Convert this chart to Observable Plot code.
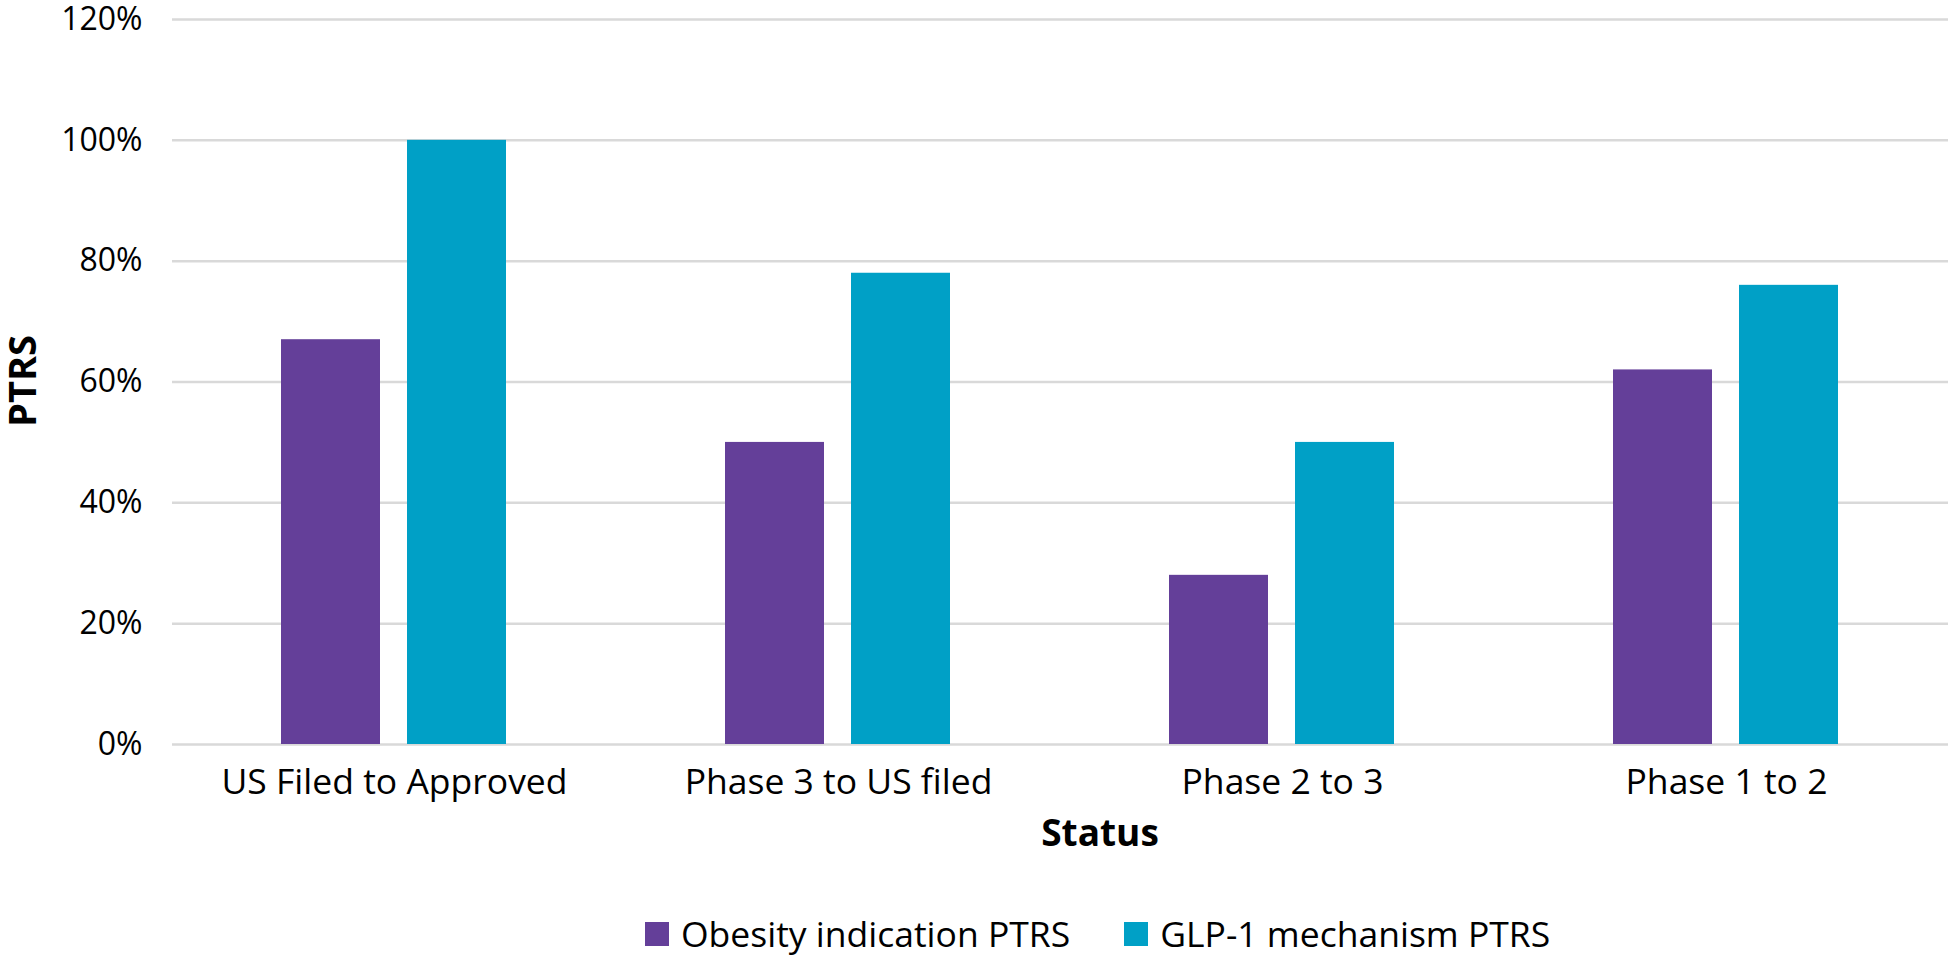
<!DOCTYPE html>
<html>
<head>
<meta charset="utf-8">
<script src="https://cdn.jsdelivr.net/npm/d3@7"></script>
<script src="https://cdn.jsdelivr.net/npm/@observablehq/plot@0.6"></script>
<style>
  body { margin: 0; background: #fff; font-family: "Open Sans", Lato, sans-serif; color: #000; }
  #wrap { position: relative; width: 1949px; height: 957px; overflow: hidden; }
  #chart { position: absolute; left: 0; top: 0; }
  #chart svg { overflow: visible; }
  #ylabel { position: absolute; left: 21px; top: 381px; transform: translate(-50%, -50%) rotate(-90deg);
            font-weight: bold; font-size: 38px; line-height: 1; white-space: nowrap; }
  #xlabel { position: absolute; left: 1100px; top: 813px; transform: translateX(-50%);
            font-weight: bold; font-size: 37px; line-height: 1; white-space: nowrap; }
  #legend { position: absolute; left: 645px; top: 916px; font-size: 35.5px; line-height: 1; white-space: nowrap;
            display: flex; align-items: center; }
  .item { display: flex; align-items: center; margin-right: 54px; }
  .sw { display: inline-block; width: 24px; height: 24px; margin-right: 12px; }
</style>
</head>
<body>
<div id="wrap">
  <div id="chart"></div>
  <div id="ylabel"></div>
  <div id="xlabel"></div>
  <div id="legend"></div>
</div>
<script>
const categories = ["US Filed to Approved", "Phase 3 to US filed", "Phase 2 to 3", "Phase 1 to 2"];
const seriesNames = ["Obesity indication PTRS", "GLP-1 mechanism PTRS"];
const obesityPTRS = [0.67, 0.50, 0.28, 0.62];
const glp1PTRS = [1.00, 0.78, 0.50, 0.76];
const yTicks = [0, 0.2, 0.4, 0.6, 0.8, 1.0, 1.2];
const colors = ["#643f99", "#00a0c6"];
const yTitle = "PTRS";
const xTitle = "Status";

const rows = [];
categories.forEach((c, i) => {
  rows.push({cat: c, series: seriesNames[0], value: obesityPTRS[i]});
  rows.push({cat: c, series: seriesNames[1], value: glp1PTRS[i]});
});

const chart = Plot.plot({
  width: 1949,
  height: 810,
  marginLeft: 170,
  marginRight: 0,
  marginTop: 19,
  marginBottom: 66,
  style: {fontFamily: "'Open Sans', Lato, sans-serif", fontSize: "32px", color: "#000", background: "#fff"},
  fx: {domain: categories, padding: 0, label: null},
  x: {domain: seriesNames, paddingInner: 0.2126, paddingOuter: 0.857, axis: null},
  y: {domain: [0, 1.2], label: null},
  color: {domain: seriesNames, range: colors},
  marks: [
    Plot.ruleY(yTicks, {stroke: "#d9d9d9", strokeWidth: 2.5}),
    Plot.barY(rows, {fx: "cat", x: "series", y: "value", fill: "series"}),
    Plot.axisY(yTicks, {tickSize: 0, tickPadding: 30, label: null, tickFormat: d => Math.round(d * 100) + "%"}),
    Plot.axisFx({anchor: "bottom", tickSize: 0, tickPadding: 24, label: null, fontSize: 35.5})
  ]
});
document.getElementById("chart").appendChild(chart);

document.getElementById("ylabel").textContent = yTitle;
document.getElementById("xlabel").textContent = xTitle;
const legend = document.getElementById("legend");
seriesNames.forEach((s, i) => {
  const item = document.createElement("div");
  item.className = "item";
  const sw = document.createElement("span");
  sw.className = "sw";
  sw.style.background = colors[i];
  const t = document.createElement("span");
  t.textContent = s;
  item.appendChild(sw);
  item.appendChild(t);
  legend.appendChild(item);
});
</script>
</body>
</html>
